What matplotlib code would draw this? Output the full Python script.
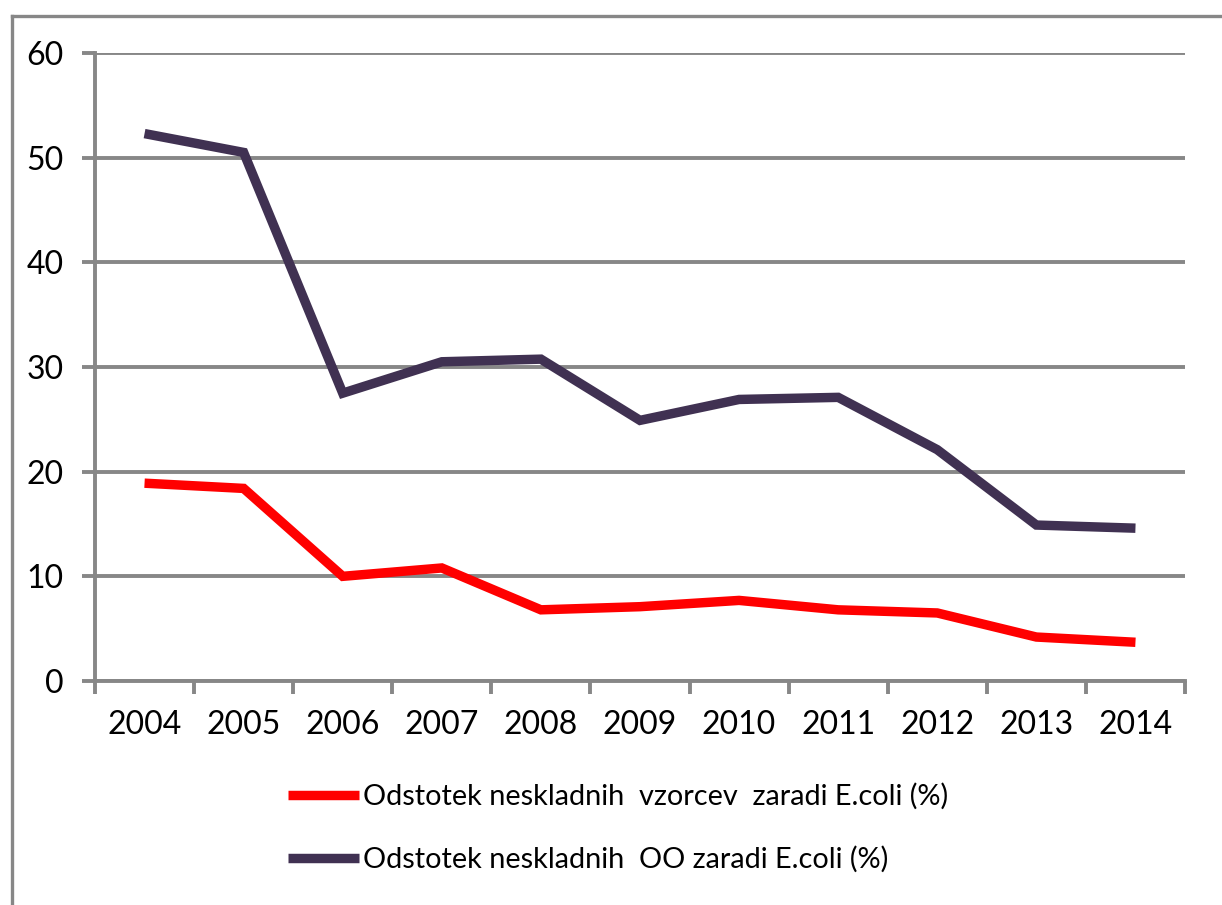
import matplotlib.pyplot as plt
import matplotlib.lines as mlines
import numpy as np

# categories and series
YEARS = ['2004', '2005', '2006', '2007', '2008', '2009', '2010', '2011', '2012', '2013', '2014']
VZORCI = [18.9, 18.4, 10.0, 10.8, 6.8, 7.1, 7.7, 6.8, 6.5, 4.2, 3.7]
OO = [52.3, 50.5, 27.5, 30.5, 30.75, 24.9, 26.9, 27.1, 22.1, 14.9, 14.6]
LABELS = ['Odstotek neskladnih  vzorcev  zaradi E.coli (%)',
          'Odstotek neskladnih  OO zaradi E.coli (%)']
Y_TICKS = [0, 10, 20, 30, 40, 50, 60]

GRAY = '#878787'
RED = '#FF0000'
PURPLE = '#403152'

plt.rcParams['font.family'] = ['Lato', 'DejaVu Sans']


def main():
    fig = plt.figure(figsize=(12.22, 9.05), dpi=100)
    ax = fig.add_axes([95 / 1222, 1 - 681 / 905, 1090 / 1222, 628 / 905])

    x = np.arange(len(YEARS))
    l1, = ax.plot(x, VZORCI, color=RED, lw=6.8, solid_joinstyle='miter',
                  solid_capstyle='butt', zorder=3)
    l2, = ax.plot(x, OO, color=PURPLE, lw=6.8, solid_joinstyle='miter',
                  solid_capstyle='butt', zorder=3)

    ax.set_xlim(-0.5, len(YEARS) - 0.5)
    ax.set_ylim(0, 60)

    # category boundaries as major ticks, labels on minor ticks
    ax.set_xticks(np.arange(-0.5, len(YEARS), 1.0))
    ax.set_xticklabels([])
    ax.set_xticks(x, minor=True)
    ax.set_xticklabels(YEARS, minor=True, fontsize=23)
    ax.tick_params(axis='x', which='major', length=9, width=2.8, color=GRAY, direction='out')
    ax.tick_params(axis='x', which='minor', length=0, pad=21)

    ax.set_yticks(Y_TICKS)
    ax.set_yticklabels([str(v) for v in Y_TICKS], fontsize=23)
    ax.tick_params(axis='y', length=9.4, width=2.8, color=GRAY, pad=13)

    ax.grid(axis='y', color=GRAY, lw=2.8, zorder=0)
    ax.set_axisbelow(True)
    for s in ['top', 'right']:
        ax.spines[s].set_visible(False)
    for s in ['left', 'bottom']:
        ax.spines[s].set_color(GRAY)
        ax.spines[s].set_linewidth(2.8)

    fig.legend(handles=[l1, l2], labels=LABELS, loc='upper left',
               bbox_to_anchor=(288 / 1222, 1 - 783 / 905), frameon=False,
               fontsize=20.8, handlelength=2.45, handletextpad=0.15,
               labelspacing=1.25, borderpad=0, borderaxespad=0)

    # outer chart border (left and top edges)
    fig.add_artist(mlines.Line2D([12 / 1222, 12 / 1222], [0, 1 - 16 / 905],
                                 transform=fig.transFigure, color=GRAY, lw=2.4))
    fig.add_artist(mlines.Line2D([12 / 1222, 1], [1 - 16 / 905, 1 - 16 / 905],
                                 transform=fig.transFigure, color=GRAY, lw=2.4))

    fig.savefig('out.png', dpi=100)


if __name__ == "__main__":
    main()
